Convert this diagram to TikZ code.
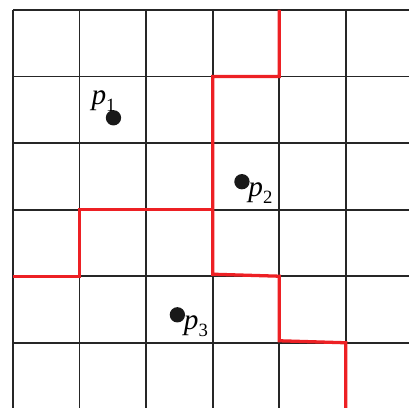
\documentclass[tikz,border=0pt]{standalone}
\usepackage{fontspec}
\setmainfont{Liberation Serif}
\usetikzlibrary{positioning}
\definecolor{bndred}{RGB}{237,32,36}
\newcommand{\sitename}[1]{\textit{p}\raisebox{-0.55ex}{\footnotesize #1}}

\begin{document}
\begin{tikzpicture}[
  font=\fontsize{12.5}{14}\selectfont,
  gridline/.style={line width=0.8pt, black!85},
  bound/.style={line width=1.4pt, bndred, line join=miter},
  site/.style={circle, fill=black!90, inner sep=0pt, minimum size=2.3mm},
  lbl/.style={inner sep=1pt},
]
\useasboundingbox (-0.195,0.024) rectangle (5.95,6.15);
\clip (-0.195,0.024) rectangle (5.95,6.15);

%% ---------- grid ----------
\draw[gridline] (0,-1) grid (7,6);

%% ---------- boundary ----------
\coordinate (btop) at (4,6);
\coordinate (bbot) at (5,-0.5);
\draw[bound] (btop) -- (4,5) -- (3,5) -- (3,2.03) -- (4,2) -- (4,1.03) -- (5,1) -- (bbot);
\draw[bound] (3,3) -- (1,3) -- (1,2) -- (0,2);

%% ---------- sites ----------
\node[site] (p1) at (1.51,4.38) {};
\node[site] (p2) at (3.44,3.42) {};
\node[site] (p3) at (2.47,1.42) {};
\node[lbl, above left=-0.4mm and -1.6mm of p1] (l1) {\sitename{1}};
\node[lbl, below right=-1.2mm and -0.3mm of p2] (l2) {\sitename{2}};
\node[lbl, below right=-1.2mm and -0.3mm of p3] (l3) {\sitename{3}};

\end{tikzpicture}
\end{document}
